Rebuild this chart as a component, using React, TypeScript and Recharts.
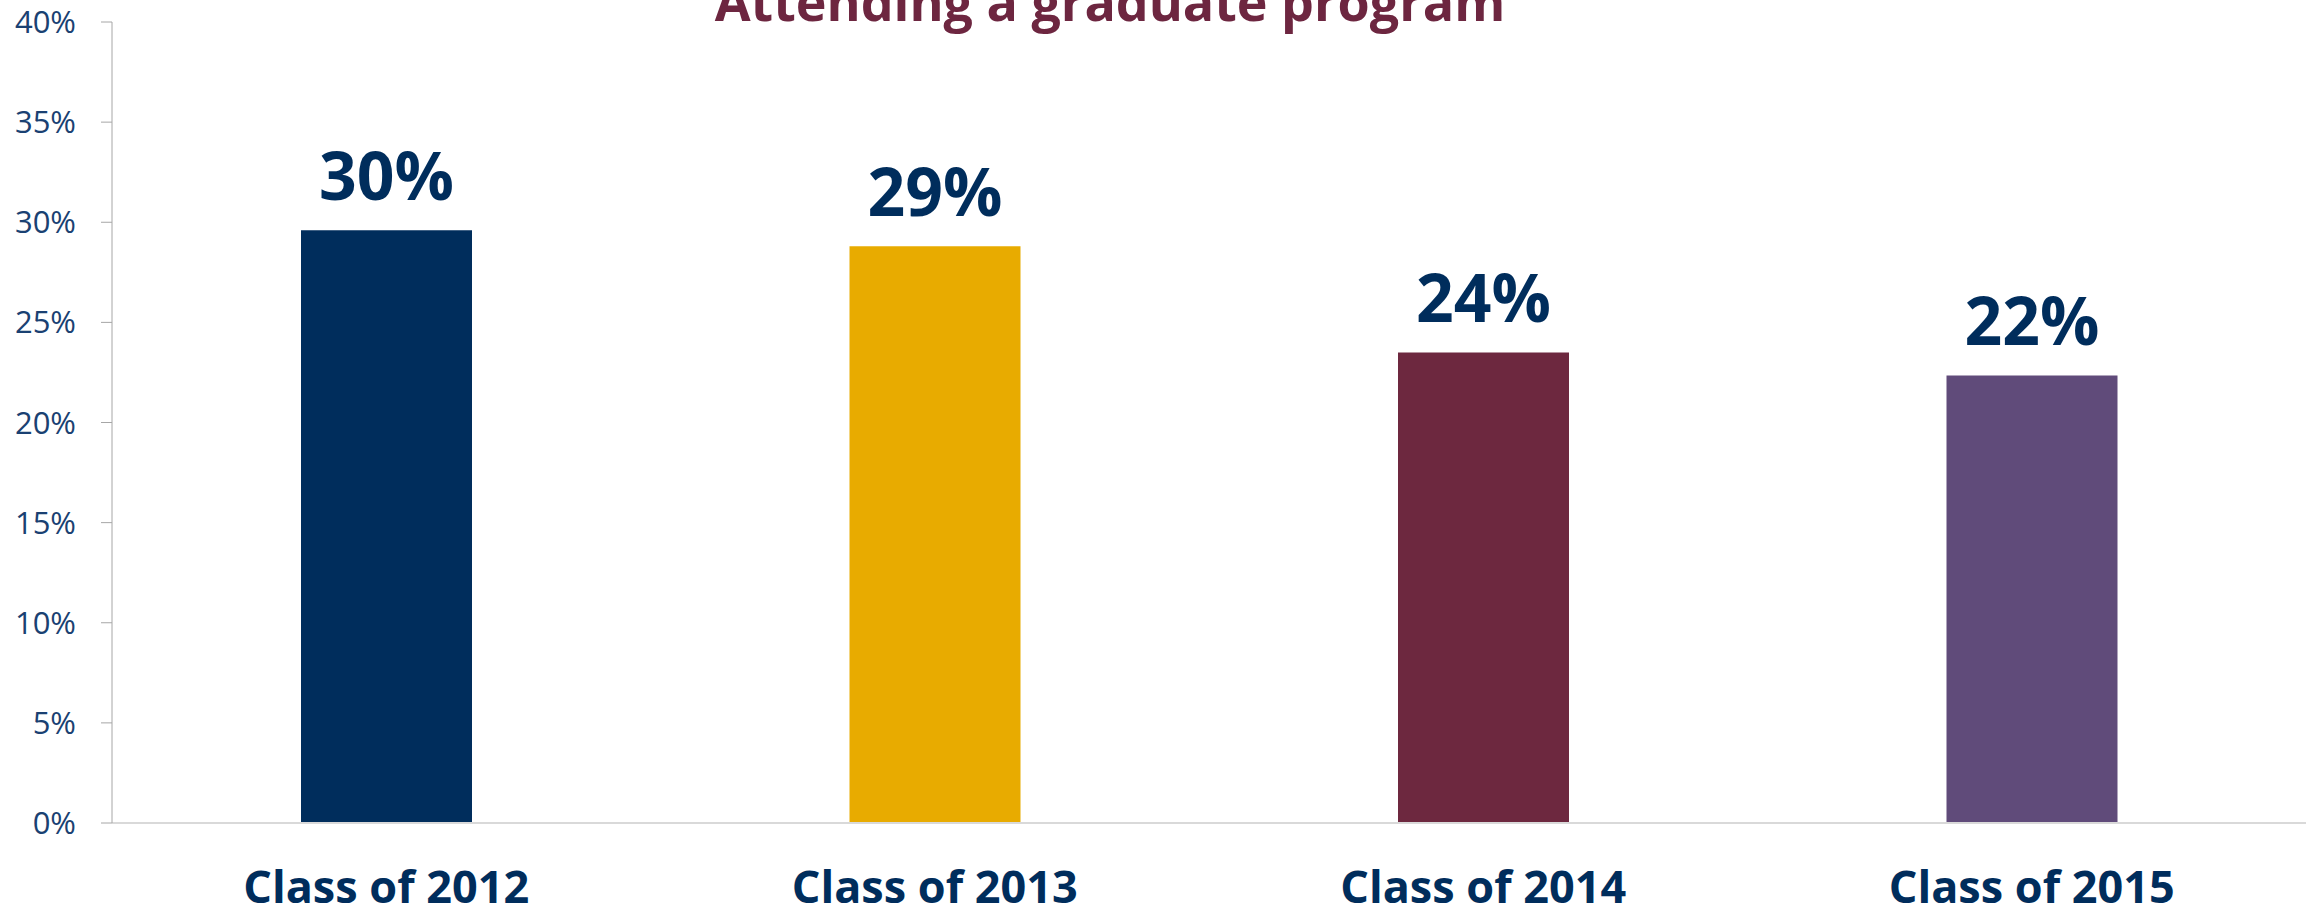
import { BarChart, Bar, XAxis, YAxis, Cell, LabelList } from "recharts";

const categories = ["Class of 2012", "Class of 2013", "Class of 2014", "Class of 2015"];
const values = [29.6, 28.8, 23.5, 22.35];
const barColors = ["#002D5C", "#E8AB00", "#6D283F", "#604B7A"];
const yTicks = [0, 5, 10, 15, 20, 25, 30, 35, 40];
const title = "Attending a graduate program";

const data = categories.map((name, i) => ({ name, value: values[i] }));

const NAVY = "#002D5C";
const FONT = "'Open Sans', 'Noto Sans', sans-serif";

export default function App() {
  return (
    <div style={{ position: "relative", width: 2318, height: 914, background: "#fff" }}>
      <style>{`body{margin:0}`}</style>
      <BarChart
        width={2318}
        height={914}
        data={data}
        margin={{ top: 22, right: 12, bottom: 23, left: 0 }}
      >
        <XAxis
          dataKey="name"
          axisLine={{ stroke: "#D9D9D9", strokeWidth: 2 }}
          tickLine={false}
          tickSize={0}
          tickMargin={48}
          height={68}
          tick={{ fill: NAVY, fontSize: 45, fontWeight: 700, fontFamily: FONT }}
        />
        <YAxis
          domain={[0, 40]}
          ticks={yTicks}
          width={112}
          tickFormatter={(v) => `${v}%`}
          axisLine={{ stroke: "#A6A6A6" }}
          tickLine={{ stroke: "#A6A6A6" }}
          tickSize={11}
          tickMargin={25}
          tick={{ fill: "#1A4172", fontSize: 31, fontFamily: FONT }}
        />
        <Bar dataKey="value" barSize={171} isAnimationActive={false}>
          {data.map((d, i) => (
            <Cell key={d.name} fill={barColors[i]} />
          ))}
          <LabelList
            dataKey="value"
            position="top"
            offset={30}
            formatter={(v: any) => `${Math.round(Number(v))}%`}
            style={{ fill: NAVY, fontSize: 66, fontWeight: 700, fontFamily: FONT }}
          />
        </Bar>
      </BarChart>
      <svg
        width={2318}
        height={60}
        style={{ position: "absolute", left: 0, top: 0, pointerEvents: "none" }}
      >
        <text
          x={1110}
          y={21}
          textAnchor="middle"
          fill="#6D2640"
          fontSize={52}
          fontWeight={700}
          fontFamily={FONT}
        >
          {title}
        </text>
      </svg>
    </div>
  );
}
